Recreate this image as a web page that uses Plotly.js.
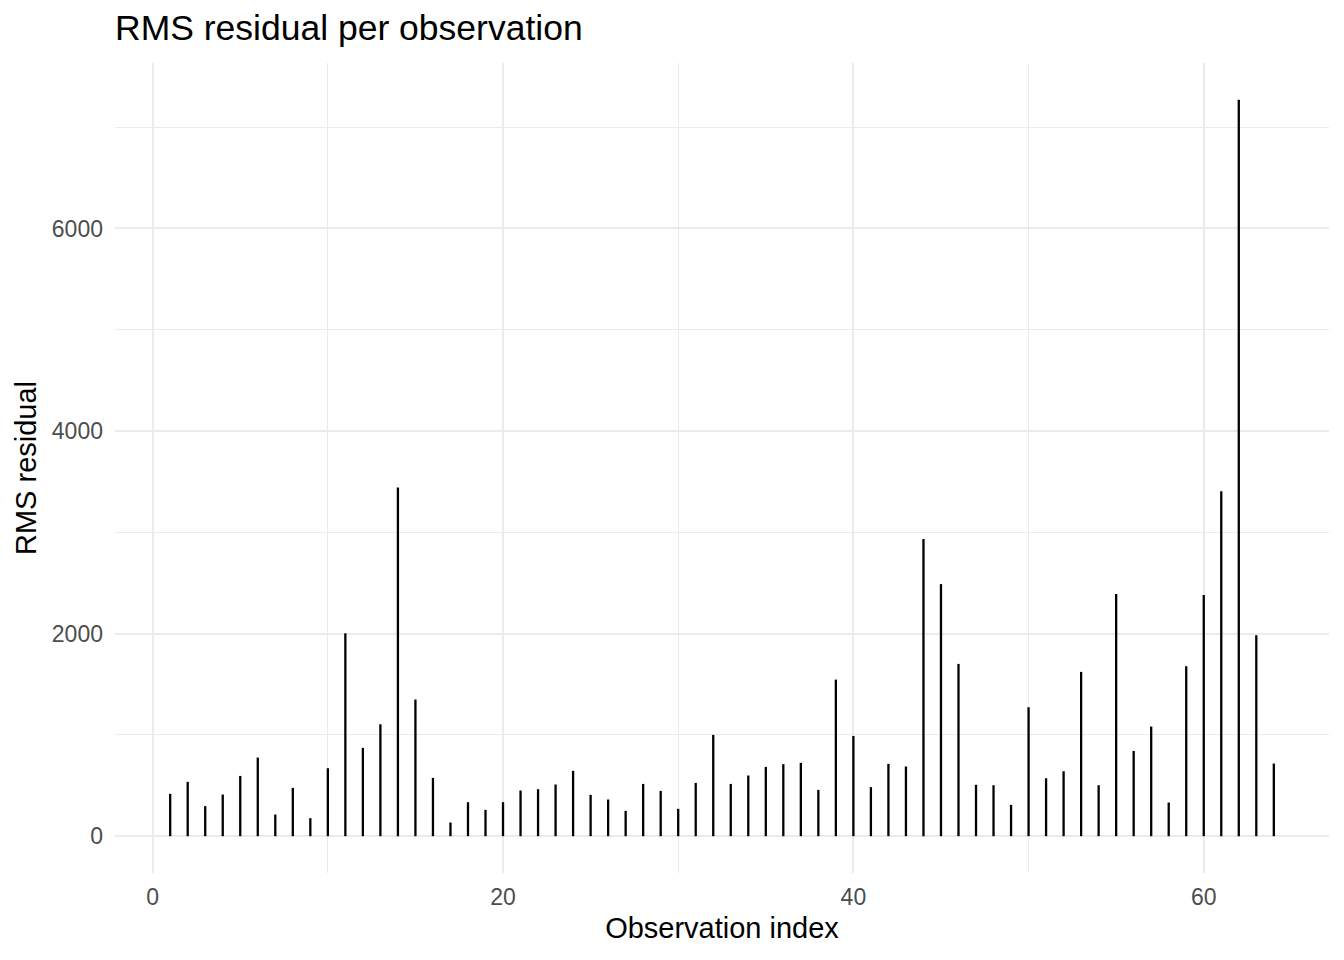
<!DOCTYPE html>
<html>
<head>
<meta charset="utf-8">
<script src="https://cdn.plot.ly/plotly-3.0.1.min.js"></script>
<style>html,body{margin:0;padding:0;background:#fff;}#chart{width:1344px;height:960px;}</style>
</head>
<body>
<div id="chart"></div>
<script>
const obsIndex = [];
for (let i = 1; i <= 64; i++) obsIndex.push(i);
const rmsResidual = [
  418, 536, 296, 411, 595, 776, 214, 477, 178, 671,
  2003, 872, 1105, 3443, 1349, 576, 135, 336, 260, 336,
  451, 464, 510, 645, 408, 362, 250, 516, 447, 270,
  526, 1000, 516, 599, 684, 711, 724, 457, 1546, 990,
  484, 714, 688, 2934, 2489, 1701, 507, 503, 309, 1273,
  572, 641, 1622, 503, 2391, 842, 1082, 332, 1678, 2381,
  3405, 7270, 1984, 717
];
const titleText = "RMS residual per observation";
const xTitle = "Observation index";
const yTitle = "RMS residual";

// vertical segments from 0 to each value (type "h" plot)
const segX = [], segY = [];
obsIndex.forEach((xi, k) => { segX.push(xi, xi, null); segY.push(0, rmsResidual[k], null); });

const FONT = "Liberation Sans, Arial, Helvetica, sans-serif";
const trace = {
  type: "scatter", mode: "lines",
  x: segX, y: segY,
  line: {color: "#000000", width: 2.3},
  hoverinfo: "x+y"
};
const layout = {
  width: 1344, height: 960,
  margin: {l: 115, r: 15, t: 63, b: 87, pad: 0},
  paper_bgcolor: "#ffffff", plot_bgcolor: "#ffffff",
  showlegend: false,
  title: {
    text: titleText,
    font: {family: FONT, size: 35.5, color: "#000000"},
    xref: "paper", x: 0, xanchor: "left",
    yref: "container", y: 1 - 28/960, yanchor: "middle"
  },
  xaxis: {
    range: [-2.15, 67.15],
    tickvals: [0, 20, 40, 60],
    ticktext: ["0", "20", "40", "60"],
    showgrid: true, gridcolor: "#ebebeb", gridwidth: 2,
    minor: {tickvals: [10, 30, 50], showgrid: true, gridcolor: "#ebebeb", gridwidth: 1, ticks: ""},
    zeroline: false, showline: false, ticks: "",
    ticklabelstandoff: 8,
    tickfont: {family: FONT, size: 23, color: "#4d4d4d"},
    title: {text: xTitle, font: {family: FONT, size: 29, color: "#000000"}, standoff: 8}
  },
  yaxis: {
    range: [-363.5, 7633.5],
    tickvals: [0, 2000, 4000, 6000],
    ticktext: ["0", "2000", "4000", "6000"],
    showgrid: true, gridcolor: "#ebebeb", gridwidth: 2,
    minor: {tickvals: [1000, 3000, 5000, 7000], showgrid: true, gridcolor: "#ebebeb", gridwidth: 1, ticks: ""},
    zeroline: false, showline: false, ticks: "",
    ticklabelstandoff: 11,
    tickfont: {family: FONT, size: 23, color: "#4d4d4d"},
    title: {text: yTitle, font: {family: FONT, size: 29, color: "#000000"}, standoff: 6}
  }
};
Plotly.newPlot("chart", [trace], layout, {displayModeBar: false, staticPlot: true});
</script>
</body>
</html>
